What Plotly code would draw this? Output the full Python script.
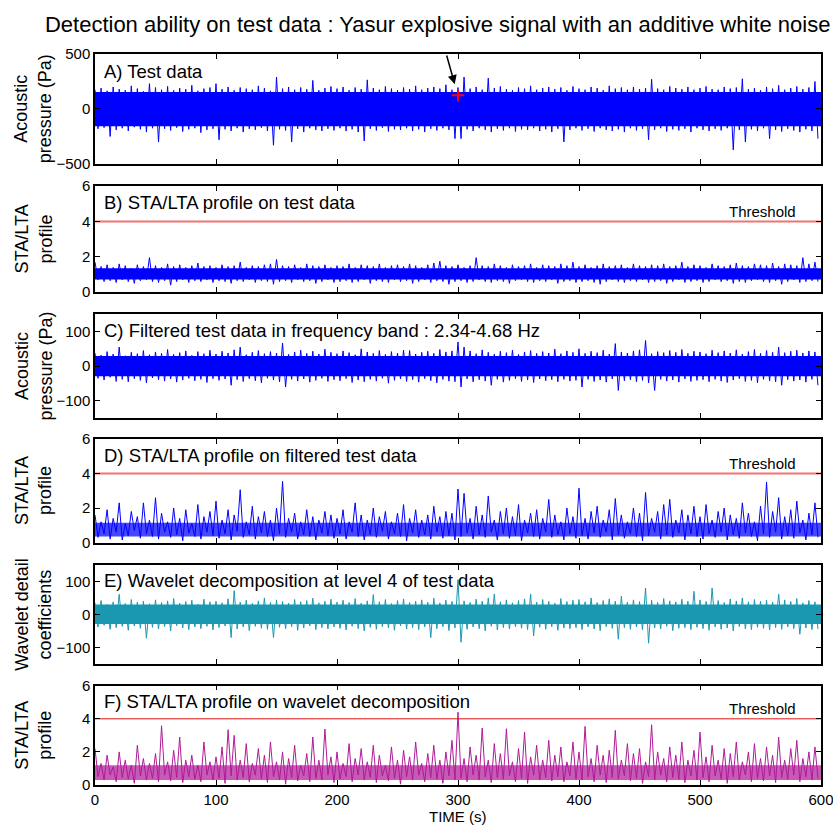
import plotly.graph_objects as go

# ---------------- data ----------------
time_step = 5.0          # seconds per envelope bin
t_max = 600

# A) Test data : upper / lower excursions per 5 s bin (Pa)
a_upper = [175,190,165,200,180,170,210,185,160,230,195,175,205,170,190,180,215,165,185,195,
           230,180,200,170,195,185,175,210,190,165,290,185,200,175,195,180,260,170,190,205,
           185,200,170,195,180,265,190,175,205,185,170,195,180,210,175,190,200,185,220,175,
           195,290,185,200,175,280,190,205,180,170,195,185,210,175,190,200,180,195,170,205,
           185,175,200,190,170,210,185,195,175,200,180,190,270,185,175,205,190,180,200,175,
           190,205,180,175,200,185,195,275,180,190,170,200,185,215,175,190,205,180,195,250]
a_lower = [-180,-170,-250,-190,-175,-200,-165,-185,-210,-175,-300,-180,-195,-170,-205,-185,-175,-215,-190,-180,
           -280,-185,-200,-175,-210,-180,-190,-170,-200,-330,-185,-195,-300,-180,-210,-175,-190,-200,-180,-195,
           -175,-200,-185,-210,-290,-180,-195,-170,-205,-185,-190,-175,-200,-185,-210,-180,-195,-175,-190,-270,
           -270,-185,-200,-175,-190,-210,-180,-195,-175,-205,-185,-190,-175,-200,-185,-210,-180,-300,-190,-175,
           -195,-180,-205,-175,-190,-200,-185,-210,-175,-195,-180,-280,-190,-175,-205,-185,-195,-180,-210,-175,
           -190,-200,-180,-195,-175,-372,-190,-300,-185,-200,-175,-270,-190,-205,-180,-195,-210,-185,-200,-270]
a_core = [-158, 155]          # dense (solid) part of the trace
detection_time = [300]
detection_amp = [125]

# B) STA/LTA profile on test data
b_upper = [1.7,1.45,1.55,1.4,1.6,1.5,1.35,1.55,1.45,1.95,1.5,1.4,1.6,1.45,1.55,1.4,1.5,1.65,1.45,1.5,
           1.4,1.55,1.45,1.5,1.7,1.4,1.5,1.45,1.55,1.6,1.85,1.5,1.45,1.55,1.4,1.6,1.5,1.45,1.55,1.4,
           1.5,1.45,1.6,1.4,1.55,1.5,1.45,1.6,1.4,1.5,1.55,1.45,1.6,1.5,1.4,1.55,1.65,1.75,1.5,1.45,
           1.55,1.4,1.5,1.95,1.5,1.45,1.6,1.5,1.4,1.55,1.45,1.5,1.6,1.4,1.55,1.5,1.45,1.6,1.5,1.7,
           1.45,1.55,1.4,1.5,1.6,1.45,1.5,1.55,1.4,1.6,1.5,1.45,1.55,1.5,1.6,1.45,1.5,1.7,1.45,1.55,
           1.5,1.4,1.6,1.5,1.45,1.55,1.65,1.5,1.45,1.6,1.55,1.5,1.65,1.45,1.6,1.55,1.5,1.95,1.6,1.7]
b_lower = [0.7,0.6,0.65,0.55,0.7,0.6,0.5,0.65,0.7,0.6,0.55,0.65,0.4,0.6,0.7,0.55,0.65,0.6,0.7,0.55,
           0.65,0.6,0.5,0.65,0.6,0.7,0.55,0.65,0.6,0.45,0.6,0.65,0.55,0.7,0.6,0.65,0.5,0.6,0.7,0.55,
           0.6,0.65,0.55,0.6,0.7,0.5,0.65,0.6,0.55,0.7,0.6,0.65,0.5,0.6,0.7,0.55,0.65,0.6,0.45,0.6,
           0.65,0.55,0.6,0.7,0.6,0.55,0.65,0.6,0.5,0.65,0.7,0.6,0.55,0.65,0.6,0.7,0.5,0.6,0.65,0.55,
           0.6,0.65,0.55,0.45,0.6,0.7,0.6,0.55,0.65,0.6,0.7,0.55,0.6,0.65,0.5,0.6,0.7,0.55,0.6,0.65,
           0.55,0.6,0.7,0.6,0.65,0.5,0.6,0.55,0.65,0.7,0.6,0.55,0.65,0.45,0.6,0.7,0.55,0.6,0.65,0.6]
b_core = [0.72, 1.35]

# C) Filtered test data (Pa)
c_upper = [38,32,42,35,55,30,40,36,45,33,41,37,48,34,39,44,31,42,36,46,
           35,43,38,47,55,33,40,45,36,42,38,67,34,41,46,37,43,35,49,40,
           36,44,39,33,50,41,37,45,34,42,38,46,45,35,40,43,37,48,41,44,
           70,55,44,36,47,40,35,43,39,46,34,41,45,37,42,38,49,36,44,40,
           50,37,43,39,46,35,65,41,38,44,47,74,36,42,39,45,40,48,37,43,
           41,36,46,39,44,38,47,35,42,48,37,45,40,55,39,43,46,38,44,41]
c_lower = [-35,-40,-32,-44,-38,-45,-36,-41,-48,-34,-39,-43,-37,-46,-40,-35,-42,-38,-47,-36,
           -41,-37,-55,-39,-44,-36,-42,-48,-35,-40,-45,-60,-38,-43,-37,-46,-41,-35,-44,-39,
           -42,-36,-47,-40,-45,-38,-43,-35,-49,-41,-37,-44,-39,-46,-36,-42,-48,-38,-43,-45,
           -60,-37,-45,-39,-43,-55,-38,-46,-41,-36,-44,-40,-47,-37,-42,-39,-45,-38,-43,-41,
           -60,-38,-44,-40,-46,-37,-70,-42,-39,-45,-41,-48,-70,-38,-43,-40,-46,-37,-44,-41,
           -39,-45,-38,-43,-47,-40,-36,-44,-41,-48,-38,-42,-45,-55,-39,-43,-40,-46,-38,-55]
c_core = [-29, 29]

# D) STA/LTA profile on filtered test data
d_high = [1.6,1.2,1.9,1.4,2.3,1.1,1.8,1.5,2.3,1.3,2.6,1.7,1.2,2.0,1.4,1.9,1.1,2.2,1.5,1.8,
          2.4,1.3,1.9,1.6,3.06,1.2,2.1,1.5,1.8,1.3,2.0,3.54,1.4,1.7,1.2,1.9,1.5,1.3,1.8,1.6,
          1.4,1.9,1.2,2.3,1.6,1.3,2.0,1.5,1.8,1.2,1.7,2.2,1.4,1.9,1.3,1.6,2.1,1.5,1.8,1.7,
          3.1,2.85,1.4,2.1,1.6,2.7,1.3,1.8,2.0,1.5,2.2,1.3,1.7,1.9,1.4,2.5,1.6,1.2,2.0,1.5,
          3.15,1.4,1.8,2.1,1.3,1.9,2.55,1.6,1.2,2.0,1.7,2.9,1.4,1.8,2.2,2.5,1.3,1.9,1.6,2.1,
          1.5,2.2,1.3,1.8,2.0,1.6,1.4,2.3,1.7,1.2,2.1,3.5,1.8,2.6,1.5,1.9,2.4,1.3,1.7,2.3]
d_low = [0.3,0.5,0.2,0.6,0.15,0.4,0.7,0.25,0.5,0.35,0.2,0.6,0.3,0.45,0.1,0.55,0.35,0.2,0.6,0.4,
         0.25,0.5,0.15,0.65,0.3,0.45,0.2,0.55,0.35,0.1,0.5,0.3,0.6,0.2,0.45,0.35,0.15,0.55,0.4,0.25,
         0.5,0.2,0.6,0.35,0.15,0.45,0.3,0.65,0.2,0.5,0.35,0.1,0.55,0.3,0.45,0.2,0.6,0.25,0.4,0.15,
         0.35,0.55,0.2,0.45,0.3,0.6,0.15,0.5,0.25,0.4,0.1,0.55,0.35,0.2,0.6,0.3,0.45,0.15,0.5,0.25,
         0.4,0.2,0.55,0.3,0.6,0.15,0.45,0.25,0.5,0.35,0.1,0.4,0.6,0.2,0.45,0.3,0.55,0.15,0.5,0.35,
         0.2,0.5,0.3,0.6,0.15,0.45,0.25,0.55,0.35,0.1,0.5,0.3,0.6,0.2,0.4,0.25,0.55,0.15,0.45,0.3]
d_core = [0.35, 1.15]

# E) Wavelet detail coefficients at level 4
e_upper = [35,42,30,38,61,33,45,37,40,32,44,36,41,48,34,39,43,31,46,38,
           40,35,47,72,37,43,33,41,50,36,44,39,34,45,38,42,49,35,40,46,
           37,43,36,48,34,41,60,38,45,33,42,47,36,40,44,37,49,35,43,39,
           105,41,36,46,40,50,62,38,44,35,42,47,62,37,45,40,34,48,39,43,
           45,38,50,36,42,47,40,55,37,44,39,80,43,36,48,41,38,46,40,70,
           44,39,80,42,36,47,41,50,38,45,40,43,37,62,44,39,48,35,42,38]
e_lower = [-38,-33,-45,-40,-36,-48,-35,-42,-72,-39,-44,-37,-50,-34,-41,-46,-38,-43,-36,-47,
           -40,-35,-70,-44,-38,-49,-36,-42,-45,-70,-39,-43,-37,-48,-41,-35,-46,-40,-44,-38,
           -42,-47,-36,-43,-50,-39,-45,-37,-41,-48,-35,-44,-40,-46,-38,-70,-43,-37,-49,-41,
           -84,-45,-38,-43,-50,-36,-47,-40,-44,-38,-42,-46,-65,-39,-45,-37,-48,-41,-43,-40,
           -46,-38,-44,-49,-37,-42,-75,-40,-45,-38,-47,-87,-41,-44,-36,-49,-42,-40,-46,-39,
           -43,-48,-38,-45,-41,-50,-37,-44,-46,-39,-42,-47,-40,-45,-38,-43,-60,-41,-46,-44]
e_core = [-29, 30]

# F) STA/LTA profile on wavelet decomposition
f_high = [2.2,1.3,1.8,1.1,2.0,1.5,1.2,2.4,1.6,1.3,1.9,3.58,1.4,2.1,2.9,1.5,1.8,1.2,2.6,1.4,
          1.7,2.3,3.34,3.0,1.5,2.5,1.3,2.2,1.8,2.6,1.4,2.0,1.6,2.4,1.2,1.9,2.9,1.5,3.38,1.7,
          2.0,1.3,2.5,1.6,2.2,1.4,2.4,1.8,1.2,2.3,1.5,2.1,1.7,2.6,1.3,1.9,2.4,1.5,2.0,2.7,
          4.4,1.6,2.3,1.8,3.44,1.5,2.5,1.9,3.4,1.4,2.2,3.2,1.7,2.4,1.5,2.7,1.8,2.3,1.4,2.6,
          2.0,3.54,1.6,2.4,1.8,2.1,3.3,1.5,2.5,1.9,2.2,1.4,3.64,2.0,1.6,2.3,1.8,2.6,1.5,2.1,
          3.2,1.7,2.4,1.5,2.2,1.9,2.6,1.4,2.0,2.5,1.6,2.3,1.8,2.9,1.5,2.2,2.7,1.6,2.0,2.3]
f_low = [0.5,0.3,0.6,0.2,0.45,0.35,0.1,0.55,0.3,0.4,0.2,0.6,0.25,0.45,0.15,0.5,0.35,0.2,0.6,0.3,
         0.4,0.1,0.55,0.3,0.45,0.2,0.6,0.35,0.15,0.5,0.3,0.05,0.45,0.25,0.55,0.2,0.4,0.3,0.6,0.15,
         0.35,0.5,0.2,0.6,0.3,0.45,0.15,0.55,0.25,0.4,0.05,0.5,0.3,0.6,0.2,0.45,0.35,0.1,0.55,0.3,
         0.4,0.2,0.6,0.3,0.5,0.15,0.45,0.35,0.55,0.2,0.4,0.1,0.6,0.3,0.45,0.25,0.5,0.2,0.55,0.35,
         0.3,0.5,0.2,0.6,0.15,0.45,0.35,0.55,0.25,0.4,0.1,0.5,0.3,0.6,0.2,0.45,0.35,0.15,0.55,0.3,
         0.45,0.2,0.55,0.35,0.1,0.5,0.3,0.6,0.2,0.4,0.25,0.55,0.15,0.45,0.35,0.6,0.2,0.5,0.3,0.4]
f_core = [0.3, 1.2]

threshold = [4, 4]
threshold_t = [0, 600]

x_ticks = [0, 100, 200, 300, 400, 500, 600]

# ---------------- figure ----------------
BLUE = "#0000ff"
TEAL = "#1b98b1"
MAGENTA = "#b01a98"
BLUE_SOFT = "rgba(0,0,255,0.72)"
MAGENTA_SOFT = "rgba(176,26,152,0.72)"
FONT = "Liberation Sans, Arial, Helvetica, sans-serif"

fig = go.Figure()


def add_signal(n, upper, lower, core, color, core_fill):
    xa, ya = ("x%d" % n, "y%d" % n) if n > 1 else ("x", "y")
    t_up = [i * time_step for i in range(len(upper))]
    t_lo = [i * time_step + time_step / 2 for i in range(len(lower))]
    span = [0, t_max]
    fig.add_trace(go.Scatter(x=span, y=[core[1], core[1]], mode="lines",
                             line=dict(width=0, color=color), xaxis=xa, yaxis=ya, hoverinfo="skip"))
    fig.add_trace(go.Scatter(x=span, y=[core[0], core[0]], mode="lines",
                             line=dict(width=0, color=color), fill="tonexty", fillcolor=core_fill,
                             xaxis=xa, yaxis=ya, hoverinfo="skip"))
    xs, ys = [], []
    for i in range(len(upper)):
        xs += [t_up[i], t_lo[i]]
        ys += [upper[i], lower[i]]
    fig.add_trace(go.Scatter(x=xs, y=ys, mode="lines", line=dict(width=1, color=color),
                             xaxis=xa, yaxis=ya))


add_signal(1, a_upper, a_lower, a_core, BLUE, BLUE)
add_signal(2, b_upper, b_lower, b_core, BLUE, BLUE)
add_signal(3, c_upper, c_lower, c_core, BLUE, BLUE)
add_signal(4, d_high, d_low, d_core, BLUE, BLUE_SOFT)
add_signal(5, e_upper, e_lower, e_core, TEAL, TEAL)
add_signal(6, f_high, f_low, f_core, MAGENTA, MAGENTA_SOFT)

# detection marker (panel A)
fig.add_trace(go.Scatter(x=detection_time, y=detection_amp, mode="markers",
                         marker=dict(symbol="cross-thin", size=9, line=dict(color="red", width=2)),
                         xaxis="x", yaxis="y"))

# thresholds
fig.add_trace(go.Scatter(x=threshold_t, y=threshold, mode="lines",
                         line=dict(color="#f27373", width=2), xaxis="x2", yaxis="y2"))
fig.add_trace(go.Scatter(x=threshold_t, y=threshold, mode="lines",
                         line=dict(color="#f27373", width=2), xaxis="x4", yaxis="y4"))
fig.add_trace(go.Scatter(x=threshold_t, y=threshold, mode="lines",
                         line=dict(color="#e01010", width=1), xaxis="x6", yaxis="y6"))

domains = [[0.8496, 1.0], [0.6741, 0.8195], [0.5018, 0.6441],
           [0.3317, 0.4733], [0.1655, 0.3012], [0.0, 0.1358]]
yranges = [[-500, 500], [0, 6], [-150, 150], [0, 6], [-150, 150], [0, 6]]
ytickvals = [[-500, 0, 500], [0, 2, 4, 6], [-100, 0, 100], [0, 2, 4, 6], [-100, 0, 100], [0, 2, 4, 6]]
yticktext = [["\u2212500", "0", "500"], ["0", "2", "4", "6"], ["\u2212100", "0", "100"],
             ["0", "2", "4", "6"], ["\u2212100", "0", "100"], ["0", "2", "4", "6"]]
ytitles = ["Acoustic<br>pressure (Pa)", "STA/LTA<br>profile", "Acoustic<br>pressure (Pa)",
           "STA/LTA<br>profile", "Wavelet detail<br>coefficients", "STA/LTA<br>profile"]
labels = ["A) Test data", "B) STA/LTA profile on test data",
          "C) Filtered test data in frequency band : 2.34-4.68 Hz",
          "D) STA/LTA profile on filtered test data",
          "E) Wavelet decomposition at level 4 of test data",
          "F) STA/LTA profile on wavelet decomposition"]

layout = dict(
    width=833, height=825,
    margin=dict(l=95, r=12, t=54, b=40, autoexpand=False),
    paper_bgcolor="white", plot_bgcolor="white",
    showlegend=False,
    font=dict(family=FONT, size=15, color="black"),
    title=dict(text="Detection ability on test data : Yasur explosive signal with an additive white noise",
               x=0.472, xref="paper", xanchor="center", y=0.97, yref="container", yanchor="middle",
               font=dict(size=22, color="black", family=FONT)),
)
annotations = []
for k in range(6):
    n = k + 1
    sx = "" if n == 1 else str(n)
    layout["xaxis" + sx] = dict(
        domain=[0, 1], range=[0, t_max], anchor="y" + sx, automargin=False,
        tickvals=x_ticks, showticklabels=(n == 6), ticklabeloverflow="allow",
        ticks="inside", ticklen=5, tickcolor="black",
        showline=True, linecolor="black", linewidth=1.5, mirror="ticks",
        showgrid=False, zeroline=False, tickfont=dict(size=15),
    )
    layout["yaxis" + sx] = dict(
        domain=domains[k], range=yranges[k], anchor="x" + sx, automargin=False,
        tickvals=ytickvals[k], ticktext=yticktext[k], ticklabeloverflow="allow",
        ticks="inside", ticklen=5, tickcolor="black",
        showline=True, linecolor="black", linewidth=1.5, mirror="ticks",
        showgrid=False, zeroline=False, tickfont=dict(size=15),
    )
    annotations.append(dict(text=ytitles[k], xref="paper", yref="paper",
                            x=-0.085, y=(domains[k][0] + domains[k][1]) / 2,
                            textangle=-90, showarrow=False, xanchor="center", yanchor="middle",
                            font=dict(size=18)))
    annotations.append(dict(text=labels[k], xref="x%s domain" % sx, yref="y%s domain" % sx,
                            x=0.009, y=0.845, xanchor="left", yanchor="middle",
                            showarrow=False, font=dict(size=18.5)))

for sx in ["2", "4", "6"]:
    annotations.append(dict(text="Threshold", xref="x%s domain" % sx, yref="y" + sx,
                            x=0.969, y=threshold[0], yshift=10, xanchor="right", yanchor="middle",
                            showarrow=False, font=dict(size=15)))

annotations.append(dict(x=297.3, y=225, xref="x", yref="y", ax=290.3, ay=500, axref="x", ayref="y",
                        showarrow=True, arrowhead=2, arrowsize=1.2, arrowwidth=1.5, arrowcolor="black",
                        text=""))
annotations.append(dict(text="TIME (s)", xref="paper", yref="paper", x=0.5, y=-0.0433,
                        xanchor="center", yanchor="middle", showarrow=False, font=dict(size=15)))
layout["annotations"] = annotations
fig.update_layout(**layout)

fig.write_html("out.html", config={"displayModeBar": False},
               post_script="document.body.style.margin='0';document.body.style.overflow='hidden';")
